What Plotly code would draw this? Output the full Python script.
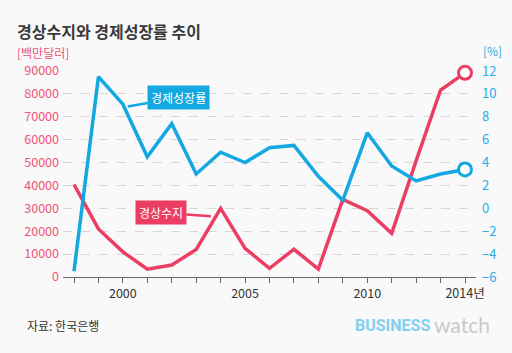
import plotly.graph_objects as go

years = list(range(1998, 2015))
current_account = [40400, 21000, 11000, 3400, 5200, 12000, 30000, 12500, 3800,
                   12100, 3500, 33900, 29000, 19100, 50800, 81700, 89200]
gdp_growth = [-5.5, 11.5, 9.1, 4.5, 7.4, 3.0, 4.9, 4.0, 5.3,
              5.5, 2.8, 0.7, 6.6, 3.7, 2.4, 3.0, 3.4]
x_tick_labels = ["", "", "2000", "", "", "", "", "2005", "", "", "", "", "2010", "", "", "", "2014년"]
left_ticks = [0, 10000, 20000, 30000, 40000, 50000, 60000, 70000, 80000, 90000]
right_ticks = [-6, -4, -2, 0, 2, 4, 6, 8, 10, 12]

RED = "#ec3d63"
BLUE = "#13a8e1"
FONT = "Noto Sans CJK KR"
BG = "#f9f9f9"

fig = go.Figure()
fig.add_trace(go.Scatter(x=years, y=current_account, mode="lines",
                         line=dict(color=RED, width=3.5), yaxis="y", showlegend=False))
fig.add_trace(go.Scatter(x=years, y=gdp_growth, mode="lines",
                         line=dict(color=BLUE, width=3.5), yaxis="y2", showlegend=False))
fig.add_trace(go.Scatter(x=years[-1:], y=current_account[-1:], mode="markers",
                         marker=dict(size=13, color="white", line=dict(color=RED, width=3)),
                         yaxis="y", showlegend=False, cliponaxis=False))
fig.add_trace(go.Scatter(x=years[-1:], y=gdp_growth[-1:], mode="markers",
                         marker=dict(size=13, color="white", line=dict(color=BLUE, width=3)),
                         yaxis="y2", showlegend=False, cliponaxis=False))

fig.update_layout(
    width=512, height=353,
    margin=dict(l=63, r=36, t=71, b=76),
    paper_bgcolor=BG, plot_bgcolor=BG,
    font=dict(family=FONT),
    xaxis=dict(range=[1997.55, 2014.45], tickvals=years, ticktext=x_tick_labels,
               ticks="outside", ticklen=5, tickcolor="#666", showgrid=False,
               showline=True, linecolor="#666", linewidth=1, zeroline=False,
               tickfont=dict(size=12.5, color="#333", family=FONT)),
    yaxis=dict(range=[0, 90000], tickvals=left_ticks, ticktext=[str(v) for v in left_ticks],
               showgrid=True, gridcolor="#d6d6d6", griddash="dash", gridwidth=1, zeroline=False,
               tickfont=dict(size=12.5, color="#ef5376", family=FONT), ticks="",
               ticklabelstandoff=3),
    yaxis2=dict(range=[-6, 12], tickvals=right_ticks, overlaying="y", side="right",
                showgrid=False, zeroline=False, ticks="",
                tickfont=dict(size=13, color="#29abe2", family=FONT),
                ticktext=[("−" + str(-v)) if v < 0 else str(v) for v in right_ticks],
                ticklabelstandoff=5),
    annotations=[
        dict(text="<b>경상수지와 경제성장률 추이</b>", xref="paper", yref="paper",
             x=-48/413, y=1 + 40/206, xanchor="left", yanchor="middle", showarrow=False,
             font=dict(size=16, color="#3a3a3a", family=FONT)),
        dict(text="[백만달러]", xref="paper", yref="paper",
             x=-48/413, y=1 + 19/206, xanchor="left", yanchor="middle", showarrow=False,
             font=dict(size=12, color="#ef5376", family=FONT)),
        dict(text="[%]", xref="paper", yref="paper",
             x=1 + 5/413, y=1 + 21/206, xanchor="left", yanchor="middle", showarrow=False,
             font=dict(size=12, color="#29abe2", family=FONT)),
        dict(text="자료: 한국은행", xref="paper", yref="paper",
             x=-38/413, y=-48/206, xanchor="left", yanchor="middle", showarrow=False,
             font=dict(size=12, color="#333", family=FONT)),
        dict(text="<b>BUSINESS</b>", xref="paper", yref="paper",
             x=(353 - 63)/413, y=-48/206, xanchor="left", yanchor="middle", showarrow=False,
             font=dict(size=16, color="#82cff0", family="Roboto")),
        dict(text="watch", xref="paper", yref="paper",
             x=(432 - 63)/413, y=-47/206, xanchor="left", yanchor="middle", showarrow=False,
             font=dict(size=21, color="#c9c9c9", family="Lato")),
        dict(text="경제성장률", x=2000.2, y=8.9, xref="x", yref="y2",
             ax=51, ay=-9, showarrow=True, arrowhead=0, arrowwidth=2.5, arrowcolor=BLUE,
             bgcolor=BLUE, borderpad=3, font=dict(size=12, color="white", family=FONT)),
        dict(text="경상수지", x=2003.6, y=26500, xref="x", yref="y",
             ax=-50, ay=-4, showarrow=True, arrowhead=0, arrowwidth=2.5, arrowcolor=RED,
             bgcolor=RED, borderpad=3, font=dict(size=12, color="white", family=FONT)),
    ],
)

fig.write_html("out.html")
